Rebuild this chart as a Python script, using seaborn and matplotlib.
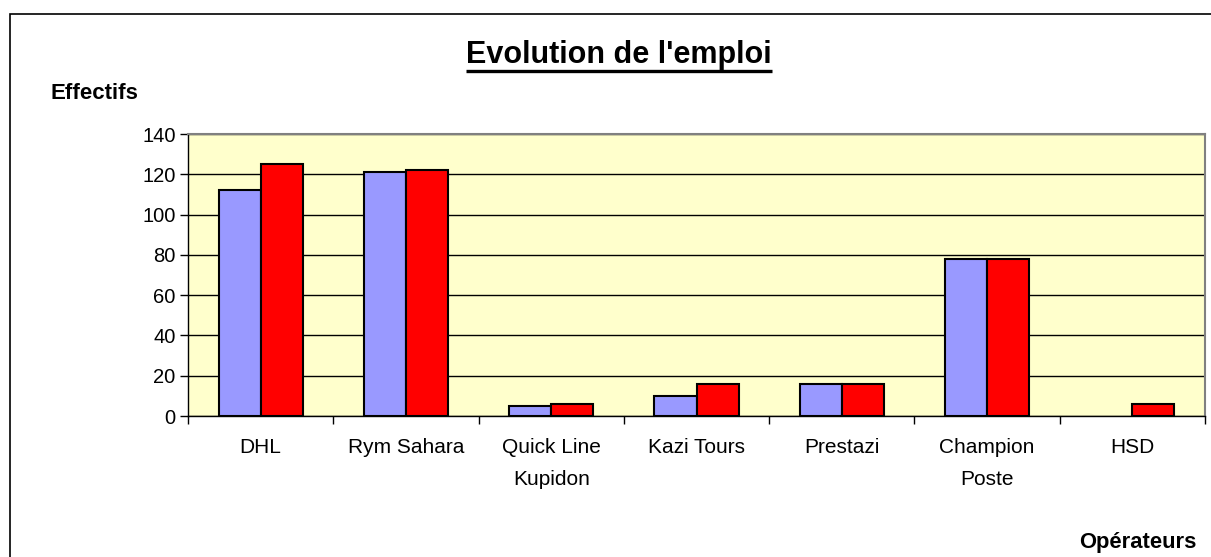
import numpy as np
import pandas as pd
import matplotlib
matplotlib.use("Agg")
import matplotlib.pyplot as plt
from matplotlib.patches import Rectangle
from matplotlib.lines import Line2D
import seaborn as sns

# Data
operateurs = ["DHL", "Rym Sahara", "Quick Line\nKupidon", "Kazi Tours",
              "Prestazi", "Champion\nPoste", "HSD"]
serie_1 = [112, 121, 5, 10, 16, 78, 0]
serie_2 = [125, 122, 6, 16, 16, 78, 6]
series = ["Série 1", "Série 2"]
y_ticks = [0, 20, 40, 60, 80, 100, 120, 140]

df = pd.DataFrame({
    "Opérateurs": operateurs * 2,
    "Effectifs": serie_1 + serie_2,
    "Série": [series[0]] * len(operateurs) + [series[1]] * len(operateurs),
})

sns.set_theme(style="white")
plt.rcParams["font.family"] = ["Liberation Sans", "DejaVu Sans"]
plt.rcParams["text.color"] = "black"
plt.rcParams["xtick.color"] = "black"
plt.rcParams["ytick.color"] = "black"

W, H = 1211, 557
fig = plt.figure(figsize=(W / 100, H / 100), dpi=100)
fig.patch.set_facecolor("white")

# Outer chart-area frame (right and bottom edges cut off as in the reference)
fig.add_artist(Rectangle((10 / W, -0.05), 1.1, 1 - 14 / H + 0.05,
                         transform=fig.transFigure, fill=False,
                         edgecolor="black", linewidth=1.2))

ax = fig.add_axes([188 / W, 1 - 416 / H, (1205 - 188) / W, (416 - 134) / H])
ax.set_facecolor("#FFFFCC")

sns.barplot(data=df, x="Opérateurs", y="Effectifs", hue="Série",
            palette=["#9999FF", "#FF0000"], width=0.58, gap=0,
            edgecolor="black", linewidth=1.5, saturation=1,
            legend=False, ax=ax)

# empty bars (HSD first series) leave no outline
for bar in ax.patches:
    if bar.get_height() == 0:
        bar.set_linewidth(0)

ax.set_ylim(0, 140)
ax.set_xlim(-0.5, len(operateurs) - 0.5)
ax.set_yticks(y_ticks)
ax.set_yticklabels([str(v) for v in y_ticks], fontsize=14.5)
ax.yaxis.grid(True, color="black", linewidth=1)
ax.set_axisbelow(True)

# Category labels centred, tick marks between categories
ax.set_xticks(np.arange(len(operateurs)))
ax.set_xticklabels(operateurs, fontsize=15, linespacing=1.85)
ax.tick_params(axis="x", length=0, pad=16)
ax.set_xticks(np.arange(len(operateurs) + 1) - 0.5, minor=True)
ax.tick_params(axis="x", which="minor", length=6, width=1, color="black",
               direction="out", bottom=True)
ax.tick_params(axis="y", length=6, width=1, color="black", direction="out",
               left=True, pad=3)

ax.set_xlabel("")
ax.set_ylabel("")
for side in ["top", "right"]:
    ax.spines[side].set_color("#808080")
    ax.spines[side].set_linewidth(1.5)
for side in ["left", "bottom"]:
    ax.spines[side].set_color("black")
    ax.spines[side].set_linewidth(1)

# Titles
title = fig.text(619 / W, 1 - 63 / H, "Evolution de l'emploi", fontsize=22,
                 fontweight="bold", ha="center", va="baseline")
fig.text(50 / W, 1 - 99 / H, "Effectifs", fontsize=16, fontweight="bold",
         ha="left", va="baseline")
fig.text(1197 / W, 1 - 548 / H, "Opérateurs", fontsize=15.8, fontweight="bold",
         ha="right", va="baseline")

# Underline the title
fig.canvas.draw()
bb = title.get_window_extent().transformed(fig.transFigure.inverted())
y_line = 1 - 70.5 / H
fig.add_artist(Line2D([bb.x0, bb.x1], [y_line, y_line],
                      transform=fig.transFigure, color="black", linewidth=2.4,
                      solid_capstyle="butt"))

fig.savefig("out.png", dpi=100)
